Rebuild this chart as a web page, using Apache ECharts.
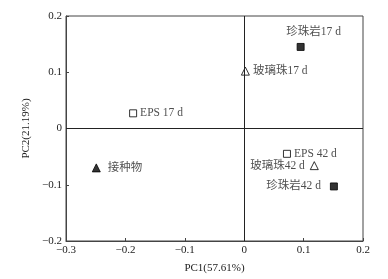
<!DOCTYPE html>
<html><head><meta charset="utf-8">
<script src="https://cdn.jsdelivr.net/npm/echarts@6/dist/echarts.min.js"></script>
<style>html,body{margin:0;padding:0;background:#fff}#c{width:388px;height:279px}</style>
</head><body><div id="c"></div>
<script>
const names = ['珍珠岩17 d','玻璃珠17 d','EPS 17 d','接种物','EPS 42 d','玻璃珠42 d','珍珠岩42 d'];
const pc1 = [0.095, 0.002, -0.187, -0.249, 0.072, 0.118, 0.151];
const pc2 = [0.145, 0.102, 0.027, -0.070, -0.045, -0.066, -0.103];
const xTicks = [-0.3, -0.2, -0.1, 0, 0.1, 0.2];
const yTicks = [-0.2, -0.1, 0, 0.1, 0.2];

const sty = [
  {sym:'rect', fill:true, pos:'top', off:[13,0]},
  {sym:'triangle', fill:false, pos:'right', off:[-2,0]},
  {sym:'rect', fill:false, pos:'right', off:[-2,0]},
  {sym:'triangle', fill:true, pos:'right', off:[2,0]},
  {sym:'rect', fill:false, pos:'right', off:[-2,0]},
  {sym:'triangle', fill:false, pos:'left', off:[0,0]},
  {sym:'rect', fill:true, pos:'left', off:[-4,0]}
];
const serif = '"Liberation Serif","Noto Sans CJK SC",serif';
const fmt = v => (Math.abs(v) < 1e-9 ? '0' : String(Math.round(v*10)/10).replace('-', '−'));
const data = names.map((n,i) => ({
  name: n, value: [pc1[i], pc2[i]],
  symbol: sty[i].sym,
  symbolSize: sty[i].sym === 'rect' ? 7 : 8,
  itemStyle: {color: sty[i].fill ? '#000' : '#fff', borderColor: '#000', borderWidth: 1},
  label: {show: true, position: sty[i].pos, offset: sty[i].off, formatter: n,
          fontFamily: serif, fontSize: 11.5, color: '#222'}
}));
const chart = echarts.init(document.getElementById('c'));
chart.setOption({
  animation: false,
  grid: {left: 66, right: 25, top: 16, bottom: 38, show: true, borderColor: '#444', borderWidth: 1},
  xAxis: {type: 'value', min: xTicks[0], max: xTicks[xTicks.length-1], interval: 0.1,
    name: 'PC1(57.61%)', nameLocation: 'middle', nameGap: 22,
    nameTextStyle: {fontFamily: serif, fontSize: 11, color: '#222'},
    axisLine: {show: true, onZero: false, lineStyle: {color: '#444'}},
    axisTick: {show: true, inside: true, length: 3, lineStyle: {color: '#444'}},
    axisLabel: {fontFamily: serif, fontSize: 11, color: '#222', margin: 4, formatter: fmt},
    splitLine: {show: false}},
  yAxis: {type: 'value', min: yTicks[0], max: yTicks[yTicks.length-1], interval: 0.1,
    name: 'PC2(21.19%)', nameLocation: 'middle', nameGap: 24,
    nameTextStyle: {fontFamily: serif, fontSize: 11, color: '#222'},
    axisLine: {show: true, onZero: false, lineStyle: {color: '#444'}},
    axisTick: {show: true, inside: true, length: 3, lineStyle: {color: '#444'}},
    axisLabel: {fontFamily: serif, fontSize: 11, color: '#222', margin: 4, formatter: fmt},
    splitLine: {show: false}},
  series: [{
    type: 'scatter', data: data,
    markLine: {silent: true, symbol: 'none', label: {show: false},
      lineStyle: {color: '#222', type: 'solid', width: 1},
      data: [{xAxis: 0}, {yAxis: 0}]}
  }]
});
</script></body></html>
